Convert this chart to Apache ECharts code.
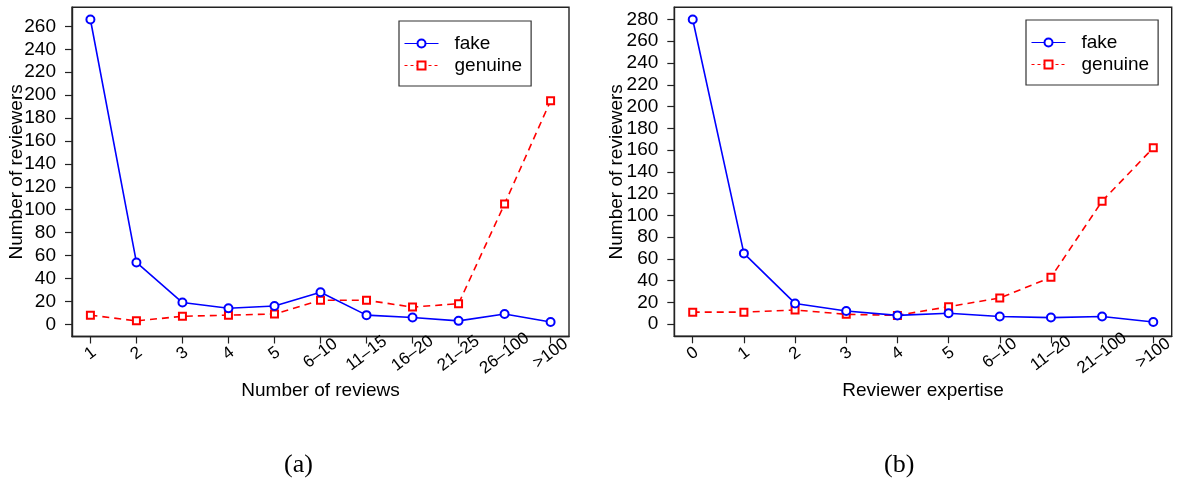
<!DOCTYPE html>
<html>
<head>
<meta charset="utf-8">
<script src="https://cdn.jsdelivr.net/npm/echarts@6/dist/echarts.min.js"></script>
<style>
html,body{margin:0;padding:0;background:#fff;}
#c{width:1177px;height:489px;}
</style>
</head>
<body>
<div id="c"></div>
<script>
// Panel (a)
const catsA = ['1','2','3','4','5','6–10','11–15','16–20','21–25','26–100','>100'];
const fakeA = [266,54,19,14,16,28,8,6,3,9,2];
const genuineA = [8,3,7,8,9,21,21,15,18,105,195];
const yTicksA = [0,20,40,60,80,100,120,140,160,180,200,220,240,260];
// Panel (b)
const catsB = ['0','1','2','3','4','5','6–10','11–20','21–100','>100'];
const fakeB = [280,65,19,12,8,10,7,6,7,2];
const genuineB = [11,11,13,9,8,16,24,43,113,162];
const yTicksB = [0,20,40,60,80,100,120,140,160,180,200,220,240,260,280];

const FONT = 'Liberation Sans';
const DARK = '#222';

function rIdx(n){ return Array.from({length:n},(_,i)=>i); }

function xAxisFor(cats, gridIndex, name){
  const ext = (cats.length-1)*0.04;
  return {
    type:'value', gridIndex, min:-ext, max:(cats.length-1)+ext,
    name, nameLocation:'middle', nameGap:45, nameMoveOverlap:false,
    nameTextStyle:{fontFamily:FONT, fontSize:19, color:'#000'},
    axisLine:{show:true, onZero:false, lineStyle:{color:DARK, width:1.4}},
    axisTick:{show:true, inside:false, length:7, lineStyle:{color:DARK, width:1.2}, customValues:rIdx(cats.length)},
    axisLabel:{show:true, customValues:rIdx(cats.length), formatter:(v)=>cats[Math.round(v)],
      rotate:37, align:'center', verticalAlign:'middle', margin:17,
      fontFamily:FONT, fontSize:17, color:'#000'},
    splitLine:{show:false}
  };
}
function yAxisFor(ticks, dataMax, gridIndex, gap){
  const ext = dataMax*0.04;
  return {
    type:'value', gridIndex, min:-ext, max:dataMax+ext,
    name:'Number of reviewers', nameLocation:'middle', nameGap:gap, nameMoveOverlap:false,
    nameTextStyle:{fontFamily:FONT, fontSize:19, color:'#000'},
    axisLine:{show:true, onZero:false, lineStyle:{color:DARK, width:1.4}},
    axisTick:{show:true, inside:false, length:7, lineStyle:{color:DARK, width:1.2}, customValues:ticks},
    axisLabel:{show:true, customValues:ticks, margin:16, fontFamily:FONT, fontSize:19, color:'#000'},
    splitLine:{show:false}
  };
}
function seriesFor(cats, fake, genuine, idx, fName, gName){
  return [
    {name:fName, type:'line', xAxisIndex:idx, yAxisIndex:idx,
     data:cats.map((c,i)=>[i,fake[i]]),
     symbol:'emptyCircle', symbolSize:8,
     lineStyle:{color:'#0000ff', width:1.6},
     itemStyle:{color:'#0000ff', borderWidth:1.6},
     emphasis:{disabled:true}, animation:false, z:3},
    {name:gName, type:'line', xAxisIndex:idx, yAxisIndex:idx,
     data:cats.map((c,i)=>[i,genuine[i]]),
     symbol:'emptyRect', symbolSize:7,
     lineStyle:{color:'#ff0000', width:1.6, type:[7,5]},
     itemStyle:{color:'#ff0000', borderWidth:1.6},
     emphasis:{disabled:true}, animation:false, z:2}
  ];
}
function legendFor(left, top, fName, gName){
  return {
    show:true, orient:'vertical', left, top,
    data:[
      {name:fName, lineStyle:{width:1, type:'solid'}, itemStyle:{borderWidth:1}},
      {name:gName, lineStyle:{width:1, type:[3,3]}, itemStyle:{borderWidth:1}}
    ],
    itemWidth:34, itemHeight:10, itemGap:3,
    padding:[13,9,11,5],
    borderColor:'#333', borderWidth:1.2, borderRadius:0,
    backgroundColor:'#fff',
    textStyle:{fontFamily:FONT, fontSize:19, color:'#000', padding:[0,0,0,11], lineHeight:19},
    formatter:(n)=>n.trim(),
    selectedMode:false
  };
}

const chart = echarts.init(document.getElementById('c'), null, {renderer:'canvas'});
const sA = seriesFor(catsA, fakeA, genuineA, 0, 'fake', 'genuine');
const sB = seriesFor(catsB, fakeB, genuineB, 1, 'fake ', 'genuine ');
const option = {
  backgroundColor:'#fff',
  animation:false,
  grid:[
    {left:72, top:7.3, width:497, height:329.2, show:true, borderColor:DARK, borderWidth:1.4, backgroundColor:'transparent'},
    {left:674.3, top:7.3, width:497.4, height:329, show:true, borderColor:DARK, borderWidth:1.4, backgroundColor:'transparent'}
  ],
  xAxis:[xAxisFor(catsA,0,'Number of reviews'), xAxisFor(catsB,1,'Reviewer expertise')],
  yAxis:[yAxisFor(yTicksA,266,0,46), yAxisFor(yTicksB,280,1,48)],
  legend:[legendFor(399,21,'fake','genuine'), legendFor(1026,20,'fake ','genuine ')],
  series:[...sA, ...sB],
  graphic:[
    {type:'text', left:284, top:452, style:{text:'(a)', font:'26px "Liberation Serif"', fill:'#000'}},
    {type:'text', left:884, top:452, style:{text:'(b)', font:'26px "Liberation Serif"', fill:'#000'}}
  ]
};
chart.setOption(option);
</script>
</body>
</html>
